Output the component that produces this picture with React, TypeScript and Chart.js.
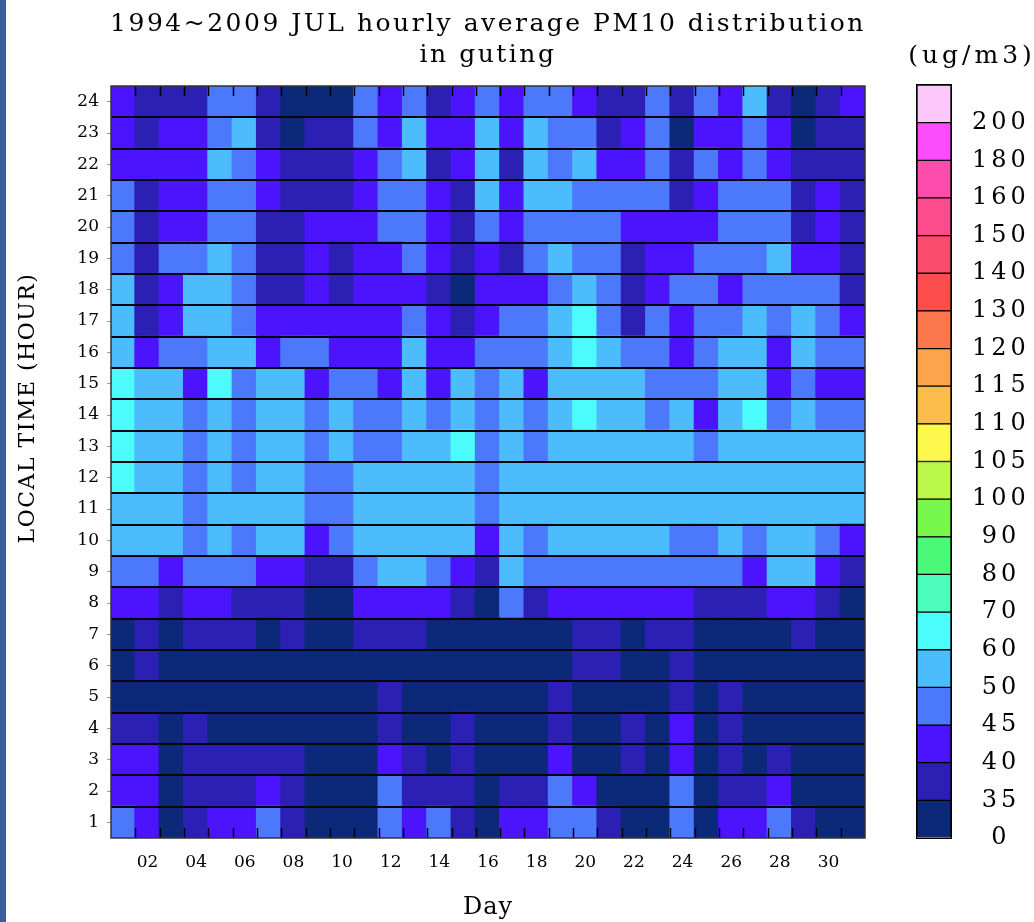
import React, { useEffect, useRef } from "react";
import { Chart, registerables } from "chart.js";

Chart.register(...registerables);

const titleLines = ["1994~2009 JUL hourly average PM10 distribution", "in guting"];
const xTitle = "Day";
const yTitle = "LOCAL TIME (HOUR)";
const unitLabel = "(ug/m3)";

const dayLabels = ["01","02","03","04","05","06","07","08","09","10","11","12","13","14","15","16","17","18","19","20","21","22","23","24","25","26","27","28","29","30","31"];
const shownDayTicks = ["02","04","06","08","10","12","14","16","18","20","22","24","26","28","30"];
const hourLabels = ["1","2","3","4","5","6","7","8","9","10","11","12","13","14","15","16","17","18","19","20","21","22","23","24"];

const levelBounds = [0,35,40,45,50,60,70,80,90,100,105,110,115,120,130,140,150,160,180,200];
const levelColors = ["#0c2878","#2c20b4","#4c14fc","#4c78fc","#4cbcfc","#4cfcfc","#4cfcbc","#4cf878","#78f84c","#bcf84c","#fcf84c","#fcbc4c","#fca44c","#fc784c","#fc4c4c","#fc4c6c","#fc4c8c","#fc4cac","#fc4cfc","#fcc8fc"];

// PM10 (ug/m3), one array per local hour, days 1..31
const h01 = [47,42,30,37,42,42,47,37,30,30,30,47,42,47,37,30,42,42,47,47,37,30,30,47,30,42,42,47,37,30,30];
const h02 = [42,42,30,37,37,37,42,37,30,30,30,47,37,37,37,30,37,37,47,42,30,30,30,47,30,37,37,42,30,30,30];
const h03 = [42,42,30,37,37,37,37,37,30,30,30,42,37,30,37,30,30,30,42,30,30,37,30,42,30,37,30,37,30,30,30];
const h04 = [37,37,30,37,30,30,30,30,30,30,30,37,30,30,37,30,30,30,37,30,30,37,30,42,30,37,30,30,30,30,30];
const h05 = [30,30,30,30,30,30,30,30,30,30,30,37,30,30,30,30,30,30,37,30,30,30,30,37,30,37,30,30,30,30,30];
const h06 = [30,37,30,30,30,30,30,30,30,30,30,30,30,30,30,30,30,30,30,37,37,30,30,37,30,30,30,30,30,30,30];
const h07 = [30,37,30,37,37,37,30,37,30,30,37,37,37,30,30,30,30,30,30,37,37,30,37,37,30,30,30,30,37,30,30];
const h08 = [42,42,37,42,42,37,37,37,30,30,42,42,42,42,37,30,47,37,42,42,42,42,42,42,37,37,37,42,42,37,30];
const h09 = [47,47,42,47,47,47,42,42,37,37,47,55,55,47,42,37,55,47,47,47,47,47,47,47,47,47,42,55,55,42,37];
const h10 = [55,55,55,47,55,47,55,55,42,47,55,55,55,55,55,42,55,47,55,55,55,55,55,47,47,55,47,55,55,47,42];
const h11 = [55,55,55,47,55,55,55,55,47,47,55,55,55,55,55,47,55,55,55,55,55,55,55,55,55,55,55,55,55,55,55];
const h12 = [64,55,55,47,55,47,55,55,47,47,55,55,55,55,55,47,55,55,55,55,55,55,55,55,55,55,55,55,55,55,55];
const h13 = [64,55,55,47,55,47,55,55,47,55,47,47,55,55,64,47,55,47,55,55,55,55,55,55,47,55,55,55,55,55,55];
const h14 = [64,55,55,47,55,47,55,55,47,55,47,47,55,47,55,47,55,47,55,64,55,55,47,55,42,55,64,47,55,47,47];
const h15 = [64,55,55,42,64,47,55,55,42,47,47,42,55,42,55,47,55,42,55,55,55,55,47,47,47,55,55,42,47,42,42];
const h16 = [55,42,47,47,55,55,42,47,47,42,42,42,55,42,42,47,47,47,55,64,55,47,47,42,47,55,55,42,55,47,47];
const h17 = [55,37,42,55,55,47,42,42,42,42,42,42,47,42,37,42,47,47,55,64,47,37,47,42,47,47,55,47,55,47,42];
const h18 = [55,37,42,55,55,47,37,37,42,37,42,42,42,37,30,42,42,42,47,55,47,37,42,47,47,42,47,47,47,47,37];
const h19 = [47,37,47,47,55,47,37,37,42,37,42,42,47,42,37,42,37,47,55,47,47,37,42,42,47,47,47,55,42,42,37];
const h20 = [47,37,42,42,47,47,37,37,42,42,42,47,47,42,37,47,42,47,47,47,47,42,42,42,42,47,47,47,37,42,37];
const h21 = [47,37,42,42,47,47,42,37,37,37,42,47,47,42,37,55,42,55,55,47,47,47,47,37,42,47,47,47,37,42,37];
const h22 = [42,42,42,42,55,47,42,37,37,37,42,47,55,37,42,55,37,55,47,55,42,42,47,37,47,42,47,42,37,37,37];
const h23 = [42,37,42,42,47,55,37,30,37,37,47,42,55,42,42,55,42,55,47,47,37,42,47,30,42,42,47,42,30,37,37];
const h24 = [42,37,37,37,47,47,37,30,30,30,47,42,47,37,42,47,42,47,47,42,37,37,47,37,47,42,55,37,30,37,42];

const hourly = [h01,h02,h03,h04,h05,h06,h07,h08,h09,h10,h11,h12,h13,h14,h15,h16,h17,h18,h19,h20,h21,h22,h23,h24];

const FONT = '"DejaVu Serif", "Liberation Serif", serif';

function colorFor(v: number): string {
  let idx = 0;
  for (let k = 0; k < levelBounds.length; k++) if (v >= levelBounds[k]) idx = k;
  return levelColors[idx];
}

const mainDecor = {
  id: "mainDecor",
  afterDatasetsDraw(chart: any) {
    const { ctx, chartArea } = chart;
    const ys = chart.scales.y;
    const { left, right } = chartArea;
    ctx.save();
    ctx.strokeStyle = "#050510";
    ctx.lineWidth = 2;
    ctx.beginPath();
    for (let k = 1; k < hourLabels.length; k++) {
      const yy = Math.round(ys.getPixelForValue(k));
      ctx.moveTo(left, yy);
      ctx.lineTo(right, yy);
    }
    ctx.stroke();
    ctx.restore();
  },
  afterDraw(chart: any) {
    const { ctx, chartArea } = chart;
    const xs = chart.scales.x;
    const { left, right, top, bottom } = chartArea;
    ctx.save();
    // inward tick marks at day boundaries
    ctx.strokeStyle = "#000";
    ctx.lineWidth = 1.5;
    ctx.beginPath();
    for (let i = 1; i < dayLabels.length; i++) {
      const xb = Math.round((xs.getPixelForValue(i - 1) + xs.getPixelForValue(i)) / 2) + 0.5;
      ctx.moveTo(xb, top);
      ctx.lineTo(xb, top + 10);
      ctx.moveTo(xb, bottom);
      ctx.lineTo(xb, bottom - 10);
    }
    ctx.stroke();
    // frame
    ctx.strokeStyle = "#333";
    ctx.lineWidth = 1.5;
    ctx.strokeRect(left, top, right - left, bottom - top);
    // titles
    const cx = (left + right) / 2;
    ctx.fillStyle = "#000";
    ctx.textAlign = "center";
    ctx.textBaseline = "alphabetic";
    (ctx as any).letterSpacing = "2.5px";
    ctx.font = `25px ${FONT}`;
    ctx.fillText(titleLines[0], cx, top - 55);
    ctx.fillText(titleLines[1], cx, top - 24);
    ctx.font = `24px ${FONT}`;
    (ctx as any).letterSpacing = "1px";
    ctx.fillText(xTitle, cx, bottom + 76);
    ctx.translate(28, (top + bottom) / 2 - 54);
    ctx.rotate(-Math.PI / 2);
    ctx.textBaseline = "middle";
    ctx.font = `22px ${FONT}`;
    (ctx as any).letterSpacing = "1.5px";
    ctx.fillText(yTitle, 0, 0);
    (ctx as any).letterSpacing = "0px";
    ctx.restore();
  },
};

const barDecor = {
  id: "barDecor",
  beforeDraw(chart: any) {
    (chart.ctx as any).letterSpacing = "4px";
  },
  afterDraw(chart: any) {
    const { ctx, chartArea } = chart;
    ctx.save();
    ctx.strokeStyle = "#000";
    ctx.lineWidth = 1;
    ctx.strokeRect(chartArea.left - 0.5, chartArea.top - 0.5, chartArea.right - chartArea.left + 1, chartArea.bottom - chartArea.top + 1);
    ctx.fillStyle = "#000";
    ctx.textAlign = "center";
    ctx.textBaseline = "alphabetic";
    ctx.font = `25px ${FONT}`;
    (ctx as any).letterSpacing = "4px";
    ctx.fillText(unitLabel, 92, 63);
    ctx.restore();
    (ctx as any).letterSpacing = "0px";
  },
};

export default function App() {
  const mainRef = useRef<HTMLCanvasElement>(null);
  const barRef = useRef<HTMLCanvasElement>(null);

  useEffect(() => {
    const main = new Chart(mainRef.current as HTMLCanvasElement, {
      type: "bar",
      data: {
        labels: dayLabels,
        datasets: hourly.map((vals, i) => ({
          label: hourLabels[i],
          data: vals.map(() => 1),
          backgroundColor: vals.map(colorFor),
          borderWidth: 0,
          barPercentage: 1,
          categoryPercentage: 1,
          inflateAmount: 1,
        })),
      } as any,
      options: {
        responsive: false,
        maintainAspectRatio: false,
        animation: false,
        layout: { padding: { top: 86, left: 0, right: 15, bottom: 0 } },
        plugins: { legend: { display: false }, tooltip: { enabled: false }, title: { display: false } },
        scales: {
          x: {
            stacked: true,
            grid: { display: false, drawTicks: false },
            border: { display: false },
            ticks: {
              autoSkip: false,
              maxRotation: 0,
              padding: 14,
              color: "#000",
              font: { family: FONT, size: 17 },
              callback: (_v: any, i: number) => (shownDayTicks.includes(dayLabels[i]) ? dayLabels[i] : ""),
            },
            afterFit: (s: any) => { s.height = 84; },
          },
          y: {
            stacked: true,
            min: 0,
            max: 24,
            grid: { drawOnChartArea: false, drawTicks: true, tickLength: 4, color: "#999" },
            border: { display: false },
            ticks: {
              padding: 8,
              color: "#000",
              font: { family: FONT, size: 17 },
              callback: (_v: any, i: number) => hourLabels[i],
            },
            afterBuildTicks: (s: any) => { s.ticks = hourLabels.map((_, i) => ({ value: i + 0.5 })); },
            afterFit: (s: any) => { s.width = 111; },
          },
        },
      } as any,
      plugins: [mainDecor],
    });

    const bar = new Chart(barRef.current as HTMLCanvasElement, {
      type: "bar",
      data: {
        labels: [""],
        datasets: levelColors.map((c, i) => ({
          label: String(levelBounds[i]),
          data: [1],
          backgroundColor: c,
          borderColor: "#000",
          borderWidth: 1,
          borderSkipped: false,
          barPercentage: 1,
          categoryPercentage: 1,
        })),
      } as any,
      options: {
        responsive: false,
        maintainAspectRatio: false,
        animation: false,
        layout: { padding: { top: 85, left: 37, right: 0, bottom: 84 } },
        plugins: { legend: { display: false }, tooltip: { enabled: false } },
        scales: {
          x: { stacked: true, display: false },
          y: {
            stacked: true,
            position: "right",
            min: 0,
            max: 20,
            grid: { drawOnChartArea: false, drawTicks: false },
            border: { display: false },
            ticks: {
              padding: 27,
              crossAlign: "center",
              color: "#000",
              font: { family: FONT, size: 24 },
              callback: (_v: any, i: number) => String(levelBounds[i]),
            },
            afterBuildTicks: (s: any) => { s.ticks = levelBounds.map((_, i) => ({ value: i })); },
            afterFit: (s: any) => { s.width = 83; },
          },
        },
      } as any,
      plugins: [barDecor],
    });

    return () => {
      main.destroy();
      bar.destroy();
    };
  }, []);

  return (
    <div style={{ position: "fixed", left: 0, top: 0, width: 1034, height: 922, background: "#fff", overflow: "hidden" }}>
      <canvas ref={mainRef} width={880} height={922} style={{ position: "absolute", left: 0, top: 0 }} />
      <canvas ref={barRef} width={154} height={922} style={{ position: "absolute", left: 880, top: 0 }} />
      <div style={{ position: "absolute", left: 0, top: 0, width: 6, height: 922, background: "#3b5e97" }} />
    </div>
  );
}
